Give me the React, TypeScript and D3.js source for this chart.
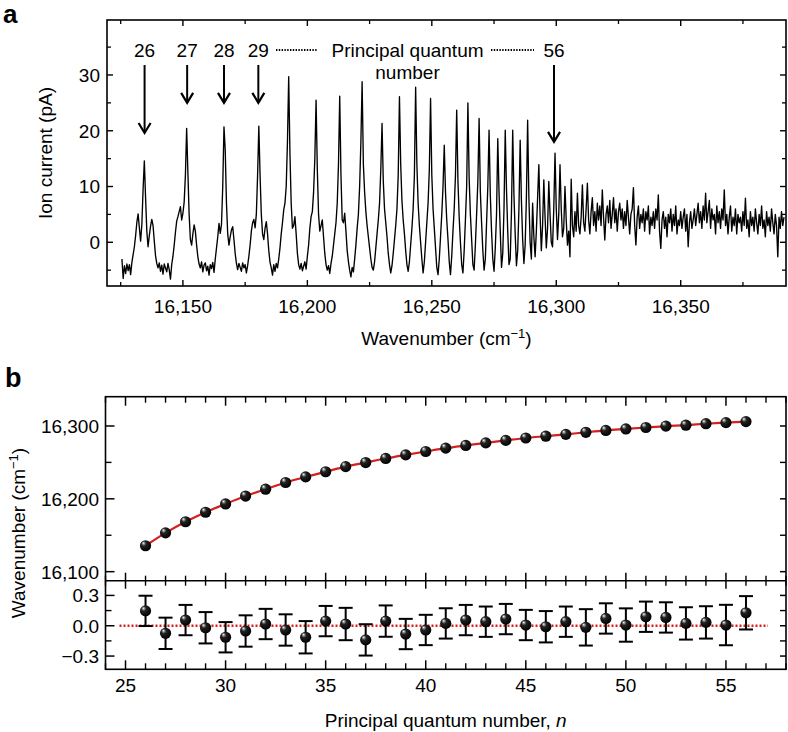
import React from "react";
import * as d3 from "d3";

// ---------------- DATA ----------------
// Panel a: ion current spectrum sampled every 0.5 cm^-1 starting at 16125.5 cm^-1
const SPEC_START = 16125.5;
const SPEC_STEP = 0.5;
const ionCurrent: number[] = [
  // 16125.5 - 16130.0
  -3.0, -6.5, -4.2, -5.6, -3.9, -5.1, -4.0, -5.8, -3.6, -2.2,
  // 16130.5 - 16135.0 (n = 26)
  -0.8, 1.2, 3.6, 5.1, 2.6, 0.2, 3.2, 9.5, 14.6, 8.0,
  2.0, -0.8, 1.2, 2.9, 4.1, 3.0, 0.2, -2.4, -3.8, -4.6,
  -3.7, -5.2, -4.1, -5.7, -3.9, -4.6, -5.3, -3.8, -4.9, -6.6,
  // 16145.5 - (n = 27)
  -4.0, -2.5, -0.5, 1.8, 3.8, 4.6, 5.5, 6.4, 4.0, 5.2,
  7.2, 12.0, 20.4, 12.5, 5.0, 0.5, -0.5, 1.5, 3.1, 2.0,
  -0.5, -2.6, -3.9, -4.6, -3.5, -5.3, -4.1, -3.7, -5.1, -4.3,
  // 16160.5 - (n = 28)
  -5.9, -4.0, -4.7, -3.6, -5.4, -3.0, -1.0, 1.0, 3.4, 1.6,
  3.2, 10.0, 20.7, 16.5, 7.0, 1.5, -0.5, 1.0, 2.2, 2.8,
  0.5, -2.0, -3.8, -4.9, -3.8, -4.5, -5.2, -3.7, -4.6, -4.0,
  // 16175.5 - (n = 29)
  -5.5, -4.2, -2.5, -0.5, 2.0, 3.5, 4.1, 2.6, 5.0, 12.0,
  20.8, 12.0, 5.0, 1.5, 0.5, 2.5, 3.7, 1.5, -1.5, -3.6,
  -4.6, -5.9, -4.0, -5.2, -3.8, -4.6, -3.0, -1.0, 1.5, 3.5,
  // 16190.5 - (n = 30)
  5.8, 7.0, 10.0, 18.0, 29.7, 16.0, 7.0, 2.5, 3.0, 4.6,
  1.5, -2.0, -4.0, -4.8, -3.8, -5.1, -4.3, -3.5, -4.8, -2.5,
  // 16200.5 - (n = 31)
  -0.5, 2.5, 4.6, 5.5, 9.0, 15.0, 25.5, 13.0, 5.0, 2.0,
  3.0, 4.0, 1.0, -2.0, -4.0, -5.0, -4.2, -5.6, -3.8, -2.5,
  // 16210.5 - (n = 32)
  -0.5, 1.5, 3.5, 7.0, 14.0, 26.2, 12.0, 4.0, 3.5, 5.2,
  2.0, -1.5, -3.5, -5.0, -6.2, -4.5, -5.3, -3.0, -0.5, 2.5,
  // 16220.5 - (n = 33)
  5.0, 10.0, 18.0, 28.8, 14.0, 9.0, 5.5, 3.0, 1.0, -1.0,
  -3.0, -4.5, -5.0, -3.5, -1.0, 1.5, 4.0, 7.0, 13.0, 21.3,
  11.0, 6.0, 3.5, 1.0, -2.0, -4.0, -5.5, -4.2, -2.0, 0.5,
  // 16235.5 -
  3.0, 6.0, 12.0, 26.1, 14.0, 7.5, 4.0, 1.5, -1.5, -4.0,
  -5.2, -3.5, -0.5, 2.5, 6.0, 12.0, 27.8, 14.0, 7.0, 3.0,
  0.0, -3.0, -5.5, -3.5, 0.0, 3.5, 7.0, 13.0, 25.8, 12.0,
  // 16250.5 -
  6.0, 2.5, -1.0, -4.5, -5.8, -3.0, 1.0, 5.0, 10.0, 17.4,
  9.0, 4.0, 0.5, -3.5, -5.8, -2.5, 2.0, 6.0, 12.0, 23.7,
  11.0, 4.5, 0.0, -4.0, -5.5, -1.5, 4.0, 10.0, 25.0, 11.5,
  5.0, 0.5, -4.0, -5.0, -0.5, 5.0, 11.0, 22.2, 9.0, 3.5,
  // 16270.5 -
  -1.5, -5.0, -3.0, 3.5, 10.0, 20.1, 8.5, 2.0, -3.0, -5.2,
  -1.0, 5.0, 18.6, 9.0, 2.0, -4.5, -2.0, 6.0, 20.1, 9.5,
  2.0, -4.0, -3.0, 5.5, 20.1, 8.5, 1.5, -4.2, -1.5, 6.0,
  18.3, 7.5, 0.5, -3.8, -0.5, 8.0, 21.9, 8.0, 0.0, -3.0,
  // 16290.5 -
  7.0, 1.0, -2.6, 2.0, 8.0, 13.9, 5.0, -1.5, 3.0, 11.2,
  4.5, -1.0, 2.5, 10.9, 5.0, 0.0, -0.8, 6.0, 16.0, 6.0,
  0.5, 5.0, 13.9, 6.0, 1.0, 2.5, 10.0, 4.0, -0.5, 2.0,
  -2.6, 11.3, 3.0, 1.0, 5.5, 2.0, 8.8, 3.0, 1.5, 4.5,
  10.3, 3.5, 2.0, 6.0, 10.6, 4.0, 1.5, 5.5, 8.0, 3.0,
  // 16315.5 - continuum
  5.5, 2.0, 7.0, 4.0, 6.5, 3.0, 9.4, 4.5, 0.4, 5.0,
  6.5, 3.5, 7.5, 2.5, 5.0, 8.0, 3.5, 6.0, 2.0, 5.5,
  7.0, 4.0, 6.0, 2.5, 5.5, 3.0, 7.5, 4.5, 1.5, 5.0,
  6.0, 9.8, 3.0, -0.5, 4.5, 6.5, 2.5, 5.0, 3.5, 6.0,
  2.0, 5.5, 4.0, 6.5, 1.5, 4.5, 3.0, 5.5, 2.5, 6.0,
  4.0, 8.5, 2.0, -1.1, 4.0, 5.5, 2.5, 4.5, 1.0, 5.0,
  3.5, 6.0, 2.0, 5.0, 3.0, 6.5, 1.5, 4.0, 3.0, 5.5,
  2.5, 4.5, 6.0, 2.0, 5.0, -0.8, 3.5, 5.5, 2.5, 4.0,
  6.0, 3.0, 5.0, 7.0, 3.5, 5.5, 2.5, 6.5, 4.0, 8.8,
  3.5, 5.5, 7.5, 2.5, 6.0, 4.0, 5.0, 1.5, 6.5, 3.5,
  5.5, 2.5, 6.0, 4.0, 9.4, 3.0, 5.0, 1.5, 4.5, 6.5,
  2.0, 4.5, 3.0, 6.0, 1.5, 5.0, 3.5, 4.5, 2.0, 5.5,
  3.0, 7.9, 2.5, 4.0, 1.0, 5.5, 3.0, 4.5, 2.0, 6.0,
  3.5, 1.5, 5.0, 3.0, 6.5, 2.5, 4.0, 1.0, 5.5, 3.0,
  4.5, 2.0, 6.0, 3.5, 1.5, 5.0, 3.0, -2.6, 4.5, 2.5,
  5.5, 3.0, 4.5,
];

const arrowLabels = ["26", "27", "28", "29", "56"];
const arrowWavenumbers = [16134.6, 16151.7, 16166.5, 16180.3, 16299.1];
const arrowTipCurrents = [19.6, 25.0, 25.0, 25.0, 18.0];

// Panel b
const quantumN = [26, 27, 28, 29, 30, 31, 32, 33, 34, 35, 36, 37, 38, 39, 40, 41, 42, 43, 44, 45, 46, 47, 48, 49, 50, 51, 52, 53, 54, 55, 56];
const lineWavenumber = [
  16135.6, 16153.3, 16168.5, 16181.6, 16193.0, 16203.8, 16213.2, 16222.4, 16230.1, 16237.2,
  16244.2, 16249.8, 16255.4, 16260.3, 16265.0, 16269.6, 16273.3, 16276.8, 16280.2, 16283.5,
  16286.0, 16288.5, 16291.3, 16293.9, 16295.9, 16297.9, 16299.8, 16301.1, 16303.1, 16304.6, 16306.0,
];
const residual = [
  0.147, -0.075, 0.056, -0.02, -0.114, -0.052, 0.017, -0.042, -0.114, 0.046,
  0.017, -0.14, 0.046, -0.082, -0.042, 0.023, 0.056, 0.04, 0.066, 0.007,
  -0.01, 0.04, -0.016, 0.072, 0.007, 0.089, 0.082, 0.023, 0.033, 0.007, 0.128,
];
const residualError = [
  0.15, 0.155, 0.15, 0.155, 0.15, 0.155, 0.15, 0.155, 0.16, 0.15,
  0.16, 0.155, 0.155, 0.15, 0.15, 0.15, 0.15, 0.15, 0.15, 0.15,
  0.155, 0.15, 0.18, 0.15, 0.165, 0.15, 0.15, 0.16, 0.16, 0.2, 0.165,
];

// Ticks
const specXMajor = [16150, 16200, 16250, 16300, 16350];
const specXMinor = [16125, 16175, 16225, 16275, 16325, 16375];
const specYMajor = [0, 10, 20, 30];
const specYMinor = [-5, 5, 15, 25, 35];
const nMajor = [25, 30, 35, 40, 45, 50, 55];
const nMinor = [24, 26, 27, 28, 29, 31, 32, 33, 34, 36, 37, 38, 39, 41, 42, 43, 44, 46, 47, 48, 49, 51, 52, 53, 54, 56, 57, 58];
const fitYMajor = [16100, 16200, 16300];
const fitYMinor = [16150, 16250];
const resYMajor = [-0.3, 0, 0.3];
const resYMinor = [-0.15, 0.15];

const FONT = "'Liberation Sans', Arial, Helvetica, sans-serif";
const FS = 19;

export default function App() {
  // ---- panel a geometry ----
  const A = { l: 107, r: 786, t: 20, b: 286 };
  const xA = d3.scaleLinear().domain([16119.5, 16392.3]).range([A.l, A.r]);
  const yA = d3.scaleLinear().domain([-7.84, 39.86]).range([A.b, A.t]);
  const specPath = d3
    .line<number>()
    .x((_, i) => xA(SPEC_START + i * SPEC_STEP))
    .y((d) => yA(d))(ionCurrent) as string;

  // ---- panel b geometry ----
  const B = { l: 105.5, r: 786, t: 396.7, m: 580.7, b: 669.3 };
  const xB = d3.scaleLinear().domain([24, 58]).range([B.l, B.r]);
  const yFit = d3.scaleLinear().domain([16087.6, 16340.2]).range([B.m, B.t]);
  const yRes = d3.scaleLinear().domain([-0.431, 0.4456]).range([B.b, B.m]);
  const fitPath = d3
    .line<number>()
    .x((_, i) => xB(quantumN[i]))
    .y((d) => yFit(d))
    .curve(d3.curveMonotoneX)(lineWavenumber) as string;

  const fmtComma = d3.format(",");
  const fmtRes = d3.format(".1f");

  const stroke = "#000";

  return (
    <svg
      width={788}
      height={732}
      viewBox="0 0 788 732"
      style={{ position: "absolute", left: 0, top: 0, background: "#fff" }}
      fontFamily={FONT}
    >
      <defs>
        <radialGradient id="ball" cx="0.42" cy="0.4" r="0.62" fx="0.3" fy="0.26">
          <stop offset="0" stopColor="#ffffff" />
          <stop offset="0.14" stopColor="#9a9a9a" />
          <stop offset="0.36" stopColor="#222" />
          <stop offset="1" stopColor="#000" />
        </radialGradient>
        <clipPath id="clipA">
          <rect x={A.l} y={A.t} width={A.r - A.l} height={A.b - A.t} />
        </clipPath>
      </defs>
      <rect x={0} y={0} width={788} height={732} fill="#fff" />

      {/* ================= PANEL A ================= */}
      <text x={3} y={23} fontSize={26} fontWeight="bold">a</text>

      <path d={specPath} fill="none" stroke="#000" strokeWidth={1.35} strokeLinejoin="round" clipPath="url(#clipA)" />

      {/* frame */}
      <rect x={A.l} y={A.t} width={A.r - A.l} height={A.b - A.t} fill="none" stroke={stroke} strokeWidth={1.6} />

      {/* x ticks (bottom & top, inward) */}
      {specXMajor.map((v) => (
        <g key={"axM" + v}>
          <line x1={xA(v)} x2={xA(v)} y1={A.b} y2={A.b - 6} stroke={stroke} strokeWidth={1.4} />
          <line x1={xA(v)} x2={xA(v)} y1={A.t} y2={A.t + 6} stroke={stroke} strokeWidth={1.4} />
          <text x={xA(v)} y={313} fontSize={FS} textAnchor="middle">{fmtComma(v)}</text>
        </g>
      ))}
      {specXMinor.map((v) => (
        <g key={"axm" + v}>
          <line x1={xA(v)} x2={xA(v)} y1={A.b} y2={A.b - 4} stroke={stroke} strokeWidth={1.3} />
          <line x1={xA(v)} x2={xA(v)} y1={A.t} y2={A.t + 4} stroke={stroke} strokeWidth={1.3} />
        </g>
      ))}
      {specYMajor.map((v) => (
        <g key={"ayM" + v}>
          <line x1={A.l} x2={A.l + 6} y1={yA(v)} y2={yA(v)} stroke={stroke} strokeWidth={1.4} />
          <line x1={A.r} x2={A.r - 6} y1={yA(v)} y2={yA(v)} stroke={stroke} strokeWidth={1.4} />
          <text x={100} y={yA(v)} dy="0.36em" fontSize={FS} textAnchor="end">{v}</text>
        </g>
      ))}
      {specYMinor.map((v) => (
        <g key={"aym" + v}>
          <line x1={A.l} x2={A.l + 4} y1={yA(v)} y2={yA(v)} stroke={stroke} strokeWidth={1.3} />
          <line x1={A.r} x2={A.r - 4} y1={yA(v)} y2={yA(v)} stroke={stroke} strokeWidth={1.3} />
        </g>
      ))}

      {/* axis titles */}
      <text x={(A.l + A.r) / 2} y={345} fontSize={FS} textAnchor="middle">
        Wavenumber (cm<tspan dy={-7} fontSize={13}>−1</tspan><tspan dy={7}>)</tspan>
      </text>
      <text transform="translate(51.5,153) rotate(-90)" fontSize={FS} textAnchor="middle">
        Ion current (pA)
      </text>

      {/* annotations */}
      {arrowLabels.map((lab, i) => {
        const x = xA(arrowWavenumbers[i]);
        const tip = yA(arrowTipCurrents[i]);
        return (
          <g key={"arr" + lab}>
            <text x={x} y={57} fontSize={FS} textAnchor="middle">{lab}</text>
            <line x1={x} x2={x} y1={65} y2={tip - 1} stroke="#000" strokeWidth={2} />
            <polyline
              points={`${x - 6},${tip - 10} ${x},${tip} ${x + 6},${tip - 10}`}
              fill="none"
              stroke="#000"
              strokeWidth={2.2}
            />
          </g>
        );
      })}
      <line x1={276} x2={318} y1={50} y2={50} stroke="#000" strokeWidth={2} strokeDasharray="1.4,1.4" />
      <line x1={491} x2={534} y1={50} y2={50} stroke="#000" strokeWidth={2} strokeDasharray="1.4,1.4" />
      <text x={407.5} y={57} fontSize={FS} textAnchor="middle">Principal quantum</text>
      <text x={407.5} y={79} fontSize={FS} textAnchor="middle">number</text>

      {/* ================= PANEL B ================= */}
      <text x={5} y={386.5} fontSize={27} fontWeight="bold">b</text>

      {/* fit curve */}
      <path d={fitPath} fill="none" stroke="#d42020" strokeWidth={2.2} />
      {/* zero line residual */}
      <line
        x1={xB(24.7)}
        x2={xB(57.1)}
        y1={yRes(0)}
        y2={yRes(0)}
        stroke="#d42020"
        strokeWidth={2.4}
        strokeDasharray="2,2"
      />

      {/* error bars */}
      {quantumN.map((n, i) => {
        const x = xB(n);
        const y1 = yRes(residual[i] + residualError[i]);
        const y2 = yRes(residual[i] - residualError[i]);
        return (
          <g key={"eb" + n} stroke="#000" strokeWidth={2}>
            <line x1={x} x2={x} y1={y1} y2={y2} />
            <line x1={x - 7} x2={x + 7} y1={y1} y2={y1} />
            <line x1={x - 7} x2={x + 7} y1={y2} y2={y2} />
          </g>
        );
      })}
      {/* points */}
      {quantumN.map((n, i) => (
        <circle key={"pf" + n} cx={xB(n)} cy={yFit(lineWavenumber[i])} r={5.6} fill="url(#ball)" />
      ))}
      {quantumN.map((n, i) => (
        <circle key={"pr" + n} cx={xB(n)} cy={yRes(residual[i])} r={5.6} fill="url(#ball)" />
      ))}

      {/* frames */}
      <rect x={B.l} y={B.t} width={B.r - B.l} height={B.b - B.t} fill="none" stroke={stroke} strokeWidth={1.6} />
      <line x1={B.l} x2={B.r} y1={B.m} y2={B.m} stroke={stroke} strokeWidth={1.6} />

      {/* x ticks */}
      {nMajor.map((v) => (
        <g key={"bxM" + v} stroke={stroke} strokeWidth={1.5}>
          <line x1={xB(v)} x2={xB(v)} y1={B.t} y2={B.t + 9} />
          <line x1={xB(v)} x2={xB(v)} y1={B.m - 8} y2={B.m + 8} />
          <line x1={xB(v)} x2={xB(v)} y1={B.b} y2={B.b - 9} />
        </g>
      ))}
      {nMinor.map((v) => (
        <g key={"bxm" + v} stroke={stroke} strokeWidth={1.4}>
          <line x1={xB(v)} x2={xB(v)} y1={B.t} y2={B.t + 6} />
          <line x1={xB(v)} x2={xB(v)} y1={B.m - 5} y2={B.m + 5} />
          <line x1={xB(v)} x2={xB(v)} y1={B.b} y2={B.b - 6} />
        </g>
      ))}
      {nMajor.map((v) => (
        <text key={"bxl" + v} x={xB(v)} y={692} fontSize={FS} textAnchor="middle">{v}</text>
      ))}

      {/* y ticks upper */}
      {fitYMajor.map((v) => (
        <g key={"byM" + v}>
          <line x1={B.l} x2={B.l + 9} y1={yFit(v)} y2={yFit(v)} stroke={stroke} strokeWidth={1.5} />
          <line x1={B.r} x2={B.r - 6} y1={yFit(v)} y2={yFit(v)} stroke={stroke} strokeWidth={1.5} />
          <text x={99} y={yFit(v)} dy="0.36em" fontSize={FS} textAnchor="end">{fmtComma(v)}</text>
        </g>
      ))}
      {fitYMinor.map((v) => (
        <g key={"bym" + v}>
          <line x1={B.l} x2={B.l + 6} y1={yFit(v)} y2={yFit(v)} stroke={stroke} strokeWidth={1.4} />
          <line x1={B.r} x2={B.r - 6} y1={yFit(v)} y2={yFit(v)} stroke={stroke} strokeWidth={1.4} />
        </g>
      ))}
      {/* y ticks residual */}
      {resYMajor.map((v) => (
        <g key={"brM" + v}>
          <line x1={B.l} x2={B.l + 9} y1={yRes(v)} y2={yRes(v)} stroke={stroke} strokeWidth={1.5} />
          <line x1={B.r} x2={B.r - 6} y1={yRes(v)} y2={yRes(v)} stroke={stroke} strokeWidth={1.5} />
          <text x={99} y={yRes(v)} dy="0.36em" fontSize={FS} textAnchor="end">{fmtRes(v)}</text>
        </g>
      ))}
      {resYMinor.map((v) => (
        <g key={"brm" + v}>
          <line x1={B.l} x2={B.l + 6} y1={yRes(v)} y2={yRes(v)} stroke={stroke} strokeWidth={1.4} />
          <line x1={B.r} x2={B.r - 6} y1={yRes(v)} y2={yRes(v)} stroke={stroke} strokeWidth={1.4} />
        </g>
      ))}

      {/* titles */}
      <text x={(B.l + B.r) / 2} y={727} fontSize={FS} textAnchor="middle">
        Principal quantum number, <tspan fontStyle="italic">n</tspan>
      </text>
      <text transform={`translate(25,${(B.t + B.b) / 2}) rotate(-90)`} fontSize={FS} textAnchor="middle">
        Wavenumber (cm<tspan dy={-7} fontSize={13}>−1</tspan><tspan dy={7}>)</tspan>
      </text>
    </svg>
  );
}
